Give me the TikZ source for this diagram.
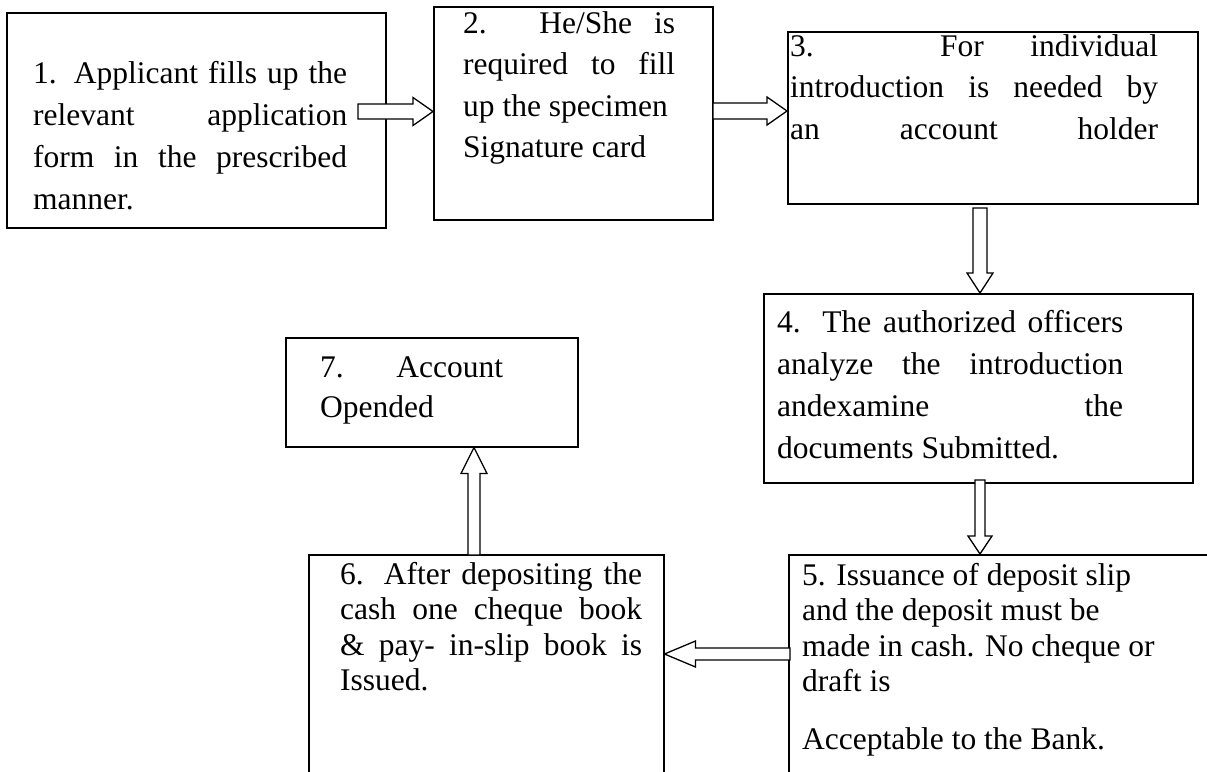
\documentclass[tikz,border=0pt]{standalone}
\usepackage{fontspec}
\setmainfont{Liberation Serif}
\usetikzlibrary{calc}
\tikzset{
  box/.style={draw, line width=1.5pt, anchor=north west, inner sep=0pt},
  blk/.style={draw, line width=1.3pt, line join=miter, fill=white},
  txt/.style={anchor=base west, inner sep=0pt},
}
\newcommand\lines[3]{\parbox[t]{#1}{\fontsize{31.5pt}{#2}\selectfont #3}}
\newcommand\J[1]{\makebox[\linewidth][s]{#1}}
% #1 tail, #2 tip, #3 shaft half width, #4 head half width, #5 head length
\newcommand\blockarrow[5]{%
  \coordinate (ba-n) at ($#2!#5!#1$);
  \draw[blk] ($#1!#3!90:#2$) -- ($(ba-n)!#3!90:#2$) -- ($(ba-n)!#4!90:#2$) -- #2
    -- ($(ba-n)!#4!-90:#2$) -- ($(ba-n)!#3!-90:#2$) -- ($#1!#3!-90:#2$) -- cycle;}
\begin{document}
\begin{tikzpicture}[x=1pt,y=-1pt]
\useasboundingbox (0,0) rectangle (1207,771);
\clip (0,0) rectangle (1207,771);
\fill[white] (0,0) rectangle (1207,771);
% boxes
\node[box, minimum width=379pt, minimum height=215pt] (b1) at (6,12) {};
\node[box, minimum width=279pt, minimum height=213pt] (b2) at (433,6) {};
\node[box, minimum width=410pt, minimum height=172pt] (b3) at (787,31) {};
\node[box, minimum width=429pt, minimum height=189pt] (b4) at (763,293) {};
\node[box, minimum width=430pt, minimum height=240pt] (b5) at (788,554) {};
\node[box, minimum width=355pt, minimum height=240pt] (b6) at (308,554) {};
\node[box, minimum width=292pt, minimum height=109pt] (b7) at (285,337) {};
% arrows
\coordinate (a12) at (358,111.5);
\coordinate (a23) at (713,111);
\coordinate (a34) at (980,208);
\coordinate (a45) at (980,480);
\coordinate (a67) at (474,555);
\coordinate (a56) at (790,654);
\blockarrow{(a12)}{(b2.west |- a12)}{7.5pt}{14pt}{20pt}
\blockarrow{(a23)}{(b3.west |- a23)}{8pt}{14pt}{20pt}
\blockarrow{(a34)}{(a34 |- b4.north)}{7pt}{13pt}{20pt}
\blockarrow{(a45)}{(a45 |- b5.north)}{5pt}{12pt}{18pt}
\blockarrow{(a67)}{(a67 |- b7.south)}{6pt}{13pt}{26pt}
\blockarrow{(a56)}{(b6.east |- a56)}{6pt}{13pt}{31pt}
% texts
\node[txt] (t1) at (33,83) {\lines{314pt}{42pt}{%
  \J{1. Applicant fills up the}\\
  \J{relevant application}\\
  \J{form in the prescribed}\\
  manner.}};
\node[txt] (t2) at (463,33) {\lines{212pt}{41.5pt}{%
  \J{2. He/She is}\\
  \J{required to fill}\\
  up the specimen\\
  Signature card}};
\node[txt] (t3) at (790,56) {\lines{368pt}{41.5pt}{%
  \J{3. For individual}\\
  \J{introduction is needed by}\\
  \J{an account holder}}};
\node[txt] (t4) at (777,332) {\lines{346pt}{42pt}{%
  \J{4. The authorized officers}\\
  \J{analyze the introduction}\\
  \J{andexamine the}\\
  documents Submitted.}};
\node[txt] (t5) at (802,585) {\lines{400pt}{35.5pt}{%
  5. Issuance of deposit slip\\
  and the deposit must be\\
  made in cash. No cheque or\\
  draft is\\[22pt]
  Acceptable to the Bank.}};
\node[txt] (t6) at (340,584) {\lines{302pt}{35.5pt}{%
  \J{6. After depositing the}\\
  \J{cash one cheque book}\\
  \J{\& pay- in-slip book is}\\
  Issued.}};
\node[txt] (t7) at (320,377) {\lines{183pt}{40pt}{%
  \J{7. Account}\\
  Opended}};
\end{tikzpicture}
\end{document}
